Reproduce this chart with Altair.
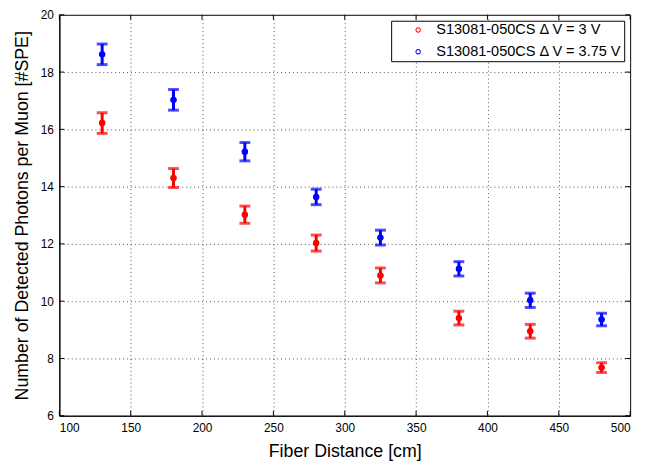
import altair as alt
import pandas as pd

distance = [130, 180, 230, 280, 325, 380, 430, 480]
red_vals = [16.22, 14.30, 13.02, 12.03, 10.90, 9.41, 8.95, 7.68]
red_err = [0.36, 0.33, 0.30, 0.28, 0.26, 0.24, 0.24, 0.17]
blue_vals = [18.62, 17.03, 15.22, 13.64, 12.22, 11.13, 10.03, 9.36]
blue_err = [0.36, 0.36, 0.32, 0.27, 0.26, 0.25, 0.25, 0.22]
series_names = ["S13081-050CS \u0394 V = 3 V", "S13081-050CS \u0394 V = 3.75 V"]
series_colors = ["#ff0000", "#0000ff"]
x_ticks = [100, 150, 200, 250, 300, 350, 400, 450, 500]
y_ticks = [6, 8, 10, 12, 14, 16, 18, 20]

rows = []
for name, vals, errs in [(series_names[0], red_vals, red_err), (series_names[1], blue_vals, blue_err)]:
    for d, v, e in zip(distance, vals, errs):
        rows.append({"dist": d, "val": v, "lo": v - e, "hi": v + e, "series": name})
df = pd.DataFrame(rows)
xt = pd.DataFrame({"t": x_ticks})
yt = pd.DataFrame({"t": y_ticks})

W, H = 578, 406
FONT = "Liberation Sans"
RING = ("M-1,0A1,1,0,1,1,1,0A1,1,0,1,1,-1,0Z"
        "M-0.62,0A0.62,0.62,0,1,0,0.62,0A0.62,0.62,0,1,0,-0.62,0Z")

xscale = alt.Scale(domain=[100, 500], nice=False, zero=False)
yscale = alt.Scale(domain=[6, 20], nice=False, zero=False)
cscale = alt.Scale(domain=series_names, range=series_colors)

axis_style = dict(
    grid=True, tickSize=0, domainColor="black", gridColor="#555555", gridDash=[1, 3],
    gridWidth=1, gridOpacity=1, labelFont=FONT, labelFontSize=12, labelColor="black",
    titleFont=FONT, titleFontSize=18, titleFontWeight="normal", titleColor="black", format="d",
)
x_axis = alt.Axis(values=x_ticks, title="Fiber Distance [cm]", labelPadding=7, titlePadding=9,
                  **axis_style)
y_axis = alt.Axis(values=y_ticks, title="Number of Detected Photons per Muon [#SPE]",
                  labelPadding=6, titlePadding=9, **axis_style)

base = alt.Chart(df)

legend_layer = base.mark_point(filled=False, size=26, strokeWidth=1, opacity=1).encode(
    x=alt.X("dist:Q", scale=xscale, axis=x_axis),
    y=alt.Y("val:Q", scale=yscale, axis=y_axis),
    color=alt.Color("series:N", scale=cscale, title=None,
                    legend=alt.Legend(orient="top-right", offset=6, strokeColor="black",
                                      fillColor="white", padding=2, symbolType=RING,
                                      symbolSize=30, symbolStrokeWidth=0, symbolOffset=18,
                                      symbolOpacity=1,
                                      labelOffset=11, rowPadding=6, labelFontSize=14.7,
                                      labelFont=FONT, labelColor="black", labelLimit=400,
                                      cornerRadius=0)),
)

fill_enc = alt.Fill("series:N", scale=cscale, legend=None)
stroke_enc = alt.Stroke("series:N", scale=cscale, legend=None)

bars = base.mark_rule(strokeWidth=3).encode(x="dist:Q", y="lo:Q", y2="hi:Q", stroke=stroke_enc)
caps_lo = base.mark_tick(orient="horizontal", size=11, thickness=3, filled=True).encode(
    x="dist:Q", y="lo:Q", fill=fill_enc)
caps_hi = base.mark_tick(orient="horizontal", size=11, thickness=3, filled=True).encode(
    x="dist:Q", y="hi:Q", fill=fill_enc)
dots = base.mark_point(filled=True, size=42, opacity=1, shape="circle").encode(
    x="dist:Q", y="val:Q", fill=fill_enc)

xt_bottom = alt.Chart(xt).mark_rule(color="black", strokeWidth=1).encode(
    x="t:Q", y=alt.value(H), y2=alt.value(H - 5))
xt_top = alt.Chart(xt).mark_rule(color="black", strokeWidth=1).encode(
    x="t:Q", y=alt.value(0), y2=alt.value(5))
yt_left = alt.Chart(yt).mark_rule(color="black", strokeWidth=1).encode(
    y="t:Q", x=alt.value(0), x2=alt.value(5))
yt_right = alt.Chart(yt).mark_rule(color="black", strokeWidth=1).encode(
    y="t:Q", x=alt.value(W), x2=alt.value(W - 5))

chart = alt.layer(
    legend_layer, xt_bottom, xt_top, yt_left, yt_right, bars, caps_lo, caps_hi, dots
).properties(
    width=W, height=H,
    autosize=alt.AutoSizeParams(type="none"),
    padding={"left": 52, "top": 4, "right": 10, "bottom": 47},
    background="white",
).configure_view(
    stroke="black", strokeWidth=1
)

chart.save("out.html", embed_options={"renderer": "svg", "actions": False})
